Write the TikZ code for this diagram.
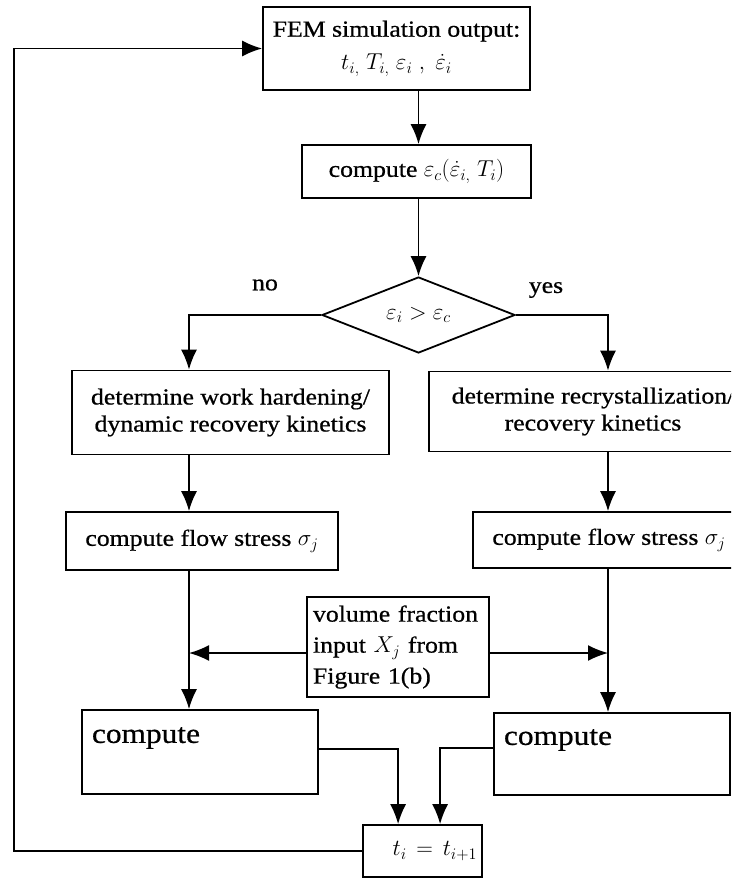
\documentclass[tikz,border=0pt]{standalone}
\usepackage{fix-cm}
\usepackage{amsmath}
\usepackage{fontspec}
\setmainfont{Liberation Serif}[FakeStretch=1.12,FakeBold=0.7]
\usepackage{tikz}
\usetikzlibrary{shapes.geometric,arrows.meta,positioning}

\begin{document}
\begin{tikzpicture}[x=1pt,y=-1pt]
  \tikzstyle{stage}=[rectangle, draw, line width=1.8pt, inner sep=4pt, align=center, font=\fontsize{23}{27}\selectfont]
  \tikzstyle{choice}=[diamond, draw, line width=1.8pt, inner sep=0pt, shape aspect=2.5, minimum width=193pt, minimum height=76pt, font=\fontsize{23}{27}\selectfont]
  \tikzstyle{flowsto}=[-{Latex[length=20pt,width=16pt]}, line width=1.6pt]
  \tikzstyle{bigtext}=[align=left, font=\fontsize{28}{34}\selectfont, inner sep=10pt]

  \useasboundingbox (0,0) rectangle (731,880);
  \clip (0,0) rectangle (731,880);

  % columns of the two branches and the way back
  \coordinate (lx) at (189,0);
  \coordinate (rx) at (608,0);
  \coordinate (back) at (14,0);

  % = simulation data and critical strain =
  \node[stage, minimum width=267pt, minimum height=83pt] (fem) at (396.5,48.5)
      {FEM simulation output:\\[6pt] $t_{i,}\ T_{i,}\ \varepsilon_i\ ,\ \dot{\varepsilon}_i$};
  \node[stage, minimum width=229pt, minimum height=53pt] (critical) at (416.5,171.5)
      {compute $\varepsilon_c(\dot{\varepsilon}_{i,}\ T_i)$};
  \node[choice] (check) at (418.5,315) {$\varepsilon_i > \varepsilon_c$};
  \node[font=\fontsize{23}{27}\selectfont] (no) at (265,285) {no};
  \node[font=\fontsize{23}{27}\selectfont] (yes) at (546,290) {yes};

  % = left branch =
  \node[stage, minimum width=317pt, minimum height=84pt] (workhard) at (230.5,412.5)
      {determine work hardening/\\dynamic recovery kinetics};
  \node[stage, minimum width=272pt, minimum height=58pt] (flowl) at (202,541)
      {compute flow stress $\sigma_j$};
  \node[stage, bigtext, text width=216pt, minimum height=84pt] (compl) at (200,752)
      {compute\\ \mbox{}};

  % = right branch =
  \node[stage, minimum width=328pt, minimum height=80pt] (recryst) at (593,411.5)
      {determine recrystallization/\\recovery kinetics};
  \node[stage, minimum width=272pt, minimum height=56pt] (flowr) at (609,540)
      {compute flow stress $\sigma_j$};
  \node[stage, bigtext, text width=216pt, minimum height=82pt] (compr) at (612,754)
      {compute\\ \mbox{}};

  % = shared input and time step =
  \node[stage, align=left, inner sep=6pt, text width=170pt, minimum height=100pt,
        font=\fontsize{23}{31}\selectfont] (volfrac) at (398,647)
      {volume fraction\\input $X_j$ from\\Figure 1(b)};
  \node[stage, align=right, inner sep=5pt, text width=109pt, minimum height=52pt] (tnext) at (422.5,851)
      {$t_i = t_{i+1}$};

  % connectors
  \draw[flowsto] (fem.south -| check) -- (critical.north -| check);
  \draw[flowsto] (critical.south -| check) -- (check.north);
  \draw[flowsto] (check.west) -| (workhard.north -| lx);
  \draw[flowsto] (check.east) -| (recryst.north -| rx);
  \draw[flowsto] (workhard.south -| lx) -- (flowl.north -| lx);
  \draw[flowsto] (recryst.south -| rx) -- (flowr.north -| rx);
  \draw[flowsto] (flowl.south -| lx) -- (compl.north -| lx);
  \draw[flowsto] (flowr.south -| rx) -- (compr.north -| rx);
  \draw[flowsto] ([yshift=-6pt]volfrac.west) -- ([yshift=-6pt]volfrac.west -| lx);
  \draw[flowsto] ([yshift=-6pt]volfrac.east) -- ([yshift=-6pt]volfrac.east -| rx);
  \draw[flowsto] ([yshift=3pt]compl.east) -| ([xshift=36pt]tnext.north west);
  \draw[flowsto] ([yshift=6pt]compr.west) -| ([xshift=78pt]tnext.north west);
  \draw[flowsto] (tnext.west) -- (tnext.west -| back) |- (fem.west);
\end{tikzpicture}
\end{document}
